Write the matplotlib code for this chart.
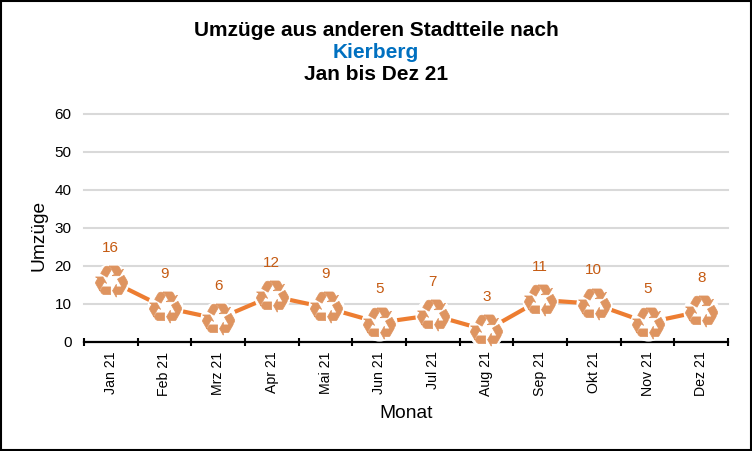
import matplotlib
matplotlib.use('Agg')
import matplotlib.pyplot as plt
from matplotlib.font_manager import FontProperties
from matplotlib.markers import MarkerStyle
from matplotlib.patches import Rectangle
from matplotlib.path import Path
from matplotlib.textpath import TextPath
from matplotlib.transforms import Affine2D

months = ['Jan 21', 'Feb 21', 'Mrz 21', 'Apr 21', 'Mai 21', 'Jun 21',
          'Jul 21', 'Aug 21', 'Sep 21', 'Okt 21', 'Nov 21', 'Dez 21']
moves = [16, 9, 6, 12, 9, 5, 7, 3, 11, 10, 5, 8]
y_ticks = [0, 10, 20, 30, 40, 50, 60]

plt.rcParams['font.family'] = ['Liberation Sans', 'DejaVu Sans']

W, H = 752, 451
fig = plt.figure(figsize=(W / 100, H / 100), dpi=100, facecolor='white')
ax = fig.add_axes([84 / W, 1 - 341.7 / H, 644 / W, 228 / H])

# recycling glyph as marker, centred on its own bounding box
glyph = TextPath((0, 0), '\u267b', size=10, prop=FontProperties(family='DejaVu Sans'))
box = glyph.get_extents()
recycle = Path(glyph.vertices, glyph.codes).transformed(
    Affine2D().translate(-(box.x0 + box.x1) / 2, -(box.y0 + box.y1) / 2))

x = list(range(len(months)))
ax.plot(x, moves, color='#ED7D31', lw=3, zorder=3, solid_capstyle='butt')
ax.plot(x, moves, ls='', marker='o', ms=25, mfc='white', mec='white', zorder=4, clip_on=False)
ax.plot(x, moves, ls='', marker=MarkerStyle(recycle), ms=28.5, mfc='#DE9460', mec='#DE9460',
        mew=0.5, zorder=5, clip_on=False)

for i, v in zip(x, moves):
    ax.annotate(str(v), (i, v), xytext=(0, 24), textcoords='offset points', ha='center',
                va='center', fontsize=11, color='#C55A11', zorder=6)

ax.set_xlim(-0.5, 11.5)
ax.set_ylim(0, 60)
ax.set_yticks(y_ticks)
ax.set_xticks([i - 0.5 for i in range(13)])
ax.set_xticklabels([])
ax.set_xticks(x, months, minor=True, rotation=90, fontsize=10.2)
ax.tick_params(axis='x', which='major', direction='inout', length=5.5, width=1.5, color='black')
ax.tick_params(axis='x', which='minor', length=0, pad=7)
ax.tick_params(axis='y', length=0, labelsize=11, pad=9)
ax.set_axisbelow(True)
ax.grid(axis='y', color='#D9D9D9', lw=1.5, clip_on=False)
for s in ['top', 'right', 'left']:
    ax.spines[s].set_visible(False)
ax.spines['bottom'].set_linewidth(1.6)
ax.spines['bottom'].set_zorder(2)

fig.text(39 / W, 1 - 235 / H, 'Umzüge', rotation=90, ha='center', va='center', fontsize=13.8)
fig.text(406 / W, 1 - 414 / H, 'Monat', ha='center', va='center', fontsize=13.8)

fig.text(376 / W, 1 - 30 / H, 'Umzüge aus anderen Stadtteile nach', ha='center', va='center',
         fontsize=15, fontweight='bold')
fig.text(376 / W, 1 - 53 / H, 'Kierberg', ha='center', va='center', fontsize=15,
         fontweight='bold', color='#0070C0')
fig.text(376 / W, 1 - 75 / H, 'Jan bis Dez 21', ha='center', va='center', fontsize=15,
         fontweight='bold')

fig.add_artist(Rectangle((1 / W, 1 / H), 750 / W, 449 / H, transform=fig.transFigure,
                         fill=False, ec='black', lw=1.5))

fig.savefig('out.png', dpi=100)
